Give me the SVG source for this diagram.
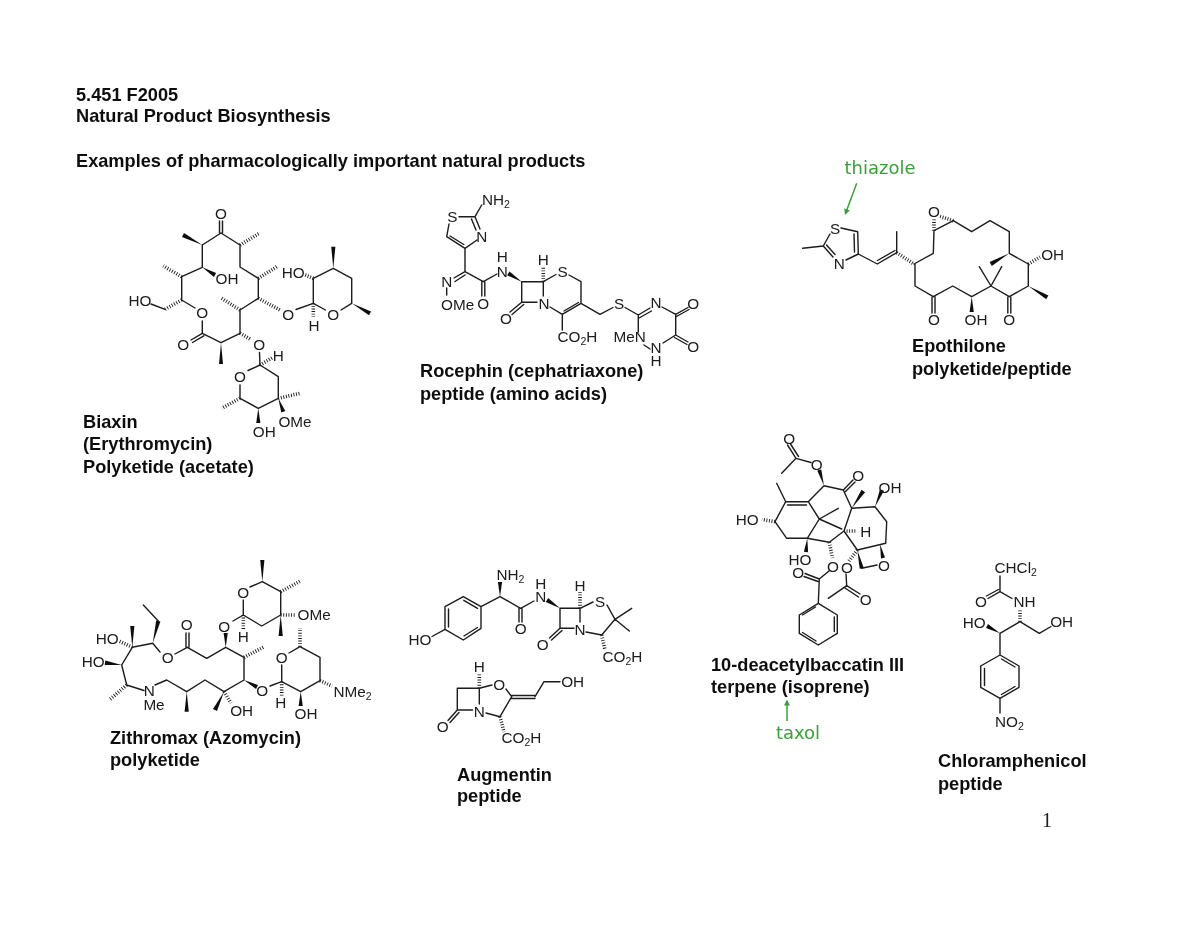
<svg xmlns="http://www.w3.org/2000/svg" width="1200" height="927" viewBox="0 0 1200 927">
<style>
.bg{fill:#fff}
.b{fill:none;stroke:#1c1c1c;stroke-width:1.4;stroke-linecap:round;stroke-linejoin:round}
.h{fill:none;stroke:#1c1c1c;stroke-width:3.6;stroke-dasharray:.9 1.7}
.w{fill:#111;stroke:none}
text{font-family:"Liberation Sans",Arial,sans-serif;fill:#1a1a1a}
.a{font-size:15.3px;text-anchor:middle}
.l{font-size:15.3px}
.s{font-size:10.5px}
.t{font-size:18.2px;font-weight:bold;fill:#111}
.g{font-family:"DejaVu Sans",Verdana,sans-serif;font-size:18px;fill:#37a237;text-anchor:middle}
.ga{fill:none;stroke:#37a237;stroke-width:1.5;marker-end:url(#ah)}
</style>
<defs>
<marker id="ah" markerWidth="6" markerHeight="6" refX="4.500" refY="3" orient="auto" markerUnits="userSpaceOnUse" viewBox="0 0 6 6"><path d="M0 0L6 3L0 6z" fill="#37a237"/></marker>
<filter id="soft" x="0" y="0" width="100%" height="100%"><feGaussianBlur stdDeviation="0.4"/></filter>
</defs>
<rect class="bg" width="1200" height="927"/>
<g filter="url(#soft)">
<g id="heading">
<text class="t" x="76" y="101">5.451 F2005</text>
<text class="t" x="76" y="122">Natural Product Biosynthesis</text>
<text class="t" x="76" y="167">Examples of pharmacologically important natural products</text>
</g>

<g id="biaxin">
<path class="b" d="M219.500 233V221M222.500 233V221M202.300 245L221 233L240 245V267L258.300 278.300V298.300L240 310V333.300L221 342.700L202.300 333.300V321M195 308L181.700 300V276.700L202.300 267.300V245M202.300 333.300L191 340M203.800 335.800L192.500 342.500M165 309.300L151 304"/>
<path class="b" d="M296 309.500L313.300 303.300L325.500 310M341 310L351.700 303.300V278.300L333.300 268.300L313.300 278.300V303.300"/>
<path class="b" d="M259.500 352.500L260 365L278.300 376.700V398.300L258.300 408.300L240 398.300V385M248 370.500L260 365"/>
<path class="h" d="M240 245L260 233M258.300 278.300L278 266M258.300 298.300L280 310M240 310L221.700 298.300M181.700 276.700L163.300 266M240 333.300L251 339.500M181.700 300L165 309.300M313.300 303.300V316.700M313.300 278.300L304 274.500M260 365L272 358M240 398.300L221.700 408.300M278.300 398.300L300 393.300"/>
<polygon class="w" points="202.300,245 184,233 182,237"/>
<polygon class="w" points="202.300,267.300 213.900,276.900 216.100,273.100"/>
<polygon class="w" points="221,342.700 219,364 223,364"/>
<polygon class="w" points="333.300,268.300 331.200,246.700 335.400,246.700"/>
<polygon class="w" points="351.700,303.300 369,315.200 371,311.400"/>
<polygon class="w" points="278.300,398.300 281.300,412.400 285.300,411"/>
<polygon class="w" points="258.300,408.300 256.200,423 260.400,423"/>
<text class="a" x="221" y="218.500">O</text>
<text class="a" x="227" y="283.500">OH</text>
<text class="a" x="140" y="305.500">HO</text>
<text class="a" x="202.300" y="318">O</text>
<text class="a" x="183.300" y="349.500">O</text>
<text class="a" x="288.300" y="319.500">O</text>
<text class="a" x="259.300" y="349.500">O</text>
<text class="a" x="293.300" y="277.500">HO</text>
<text class="a" x="333.300" y="319.500">O</text>
<text class="a" x="314" y="330.500">H</text>
<text class="a" x="278.300" y="361">H</text>
<text class="a" x="240" y="381.500">O</text>
<text class="a" x="295" y="427">OMe</text>
<text class="a" x="264.300" y="437">OH</text>
</g>
<g id="biaxin-label">
<text class="t" x="83" y="428">Biaxin</text>
<text class="t" x="83" y="450">(Erythromycin)</text>
<text class="t" x="83" y="473">Polyketide (acetate)</text>
</g>

<g id="rocephin">
<path class="b" d="M481.700 205L475 216.700L459 216.700M446.700 236.700L449 224M475 216.700L480 229M471.500 219L476 230M477 240L465 248.300L446.700 236.700M463.800 244.500L450 236M465 248.300V271.700L454 278M465 275L455 281.500M465 271.700L483.300 281.700L497 274M481.800 281.700V296M484.800 281.700V296M446.700 288V295"/>
<path class="b" d="M521.700 281.700H543.300V296M521.700 281.700V302.300H537M521.700 302.300L510 312M523.700 304.500L512 314.500M543.300 281.700L556 274.500M569 275L581 281.700V303.300L562.300 314.300L550 307M578.500 302.500L564 311M562.300 314.300V330M581 303.300L600 314.300L613 307.500M625 307.500L638.300 315L650 308M639 318L651.500 311M638.300 315V332M644 345L650 349M662 307L675.700 314.300L688 307.500M676.500 316.500L689 309.500M675.700 314.300V335L688 342M674.500 337.500L687 344.500M675.700 335L663 343"/>
<path class="h" d="M543.300 281.700L543.300 267"/>
<polygon class="w" points="521.700,281.700 509.500,271.400 507.100,275.200"/>
<text class="a" x="452.300" y="222">S</text>
<text class="a" x="481.700" y="242">N</text>
<text class="a" x="446.700" y="287">N</text>
<text class="l" x="441" y="309.500">OMe</text>
<text class="a" x="483.300" y="309">O</text>
<text class="a" x="502.300" y="277">N</text>
<text class="a" x="502.300" y="262">H</text>
<text class="a" x="543.300" y="265">H</text>
<text class="a" x="562.700" y="277">S</text>
<text class="a" x="544" y="308.500">N</text>
<text class="a" x="506" y="323.500">O</text>
<text class="l" x="557.500" y="342">CO<tspan class="s" dy="3">2</tspan><tspan dy="-3">H</tspan></text>
<text class="a" x="619" y="308.500">S</text>
<text class="a" x="656" y="307.500">N</text>
<text class="a" x="693.300" y="308.500">O</text>
<text class="a" x="693.300" y="352">O</text>
<text class="l" x="613.500" y="342">MeN</text>
<text class="a" x="656" y="353">N</text>
<text class="a" x="656" y="366">H</text>
<text class="l" x="482" y="204.500">NH<tspan class="s" dy="3">2</tspan></text>
</g>
<g id="rocephin-label">
<text class="t" x="420" y="377">Rocephin (cephatriaxone)</text>
<text class="t" x="420" y="400">peptide (amino acids)</text>
</g>

<g id="epothilone">
<path class="b" d="M802.700 248.300L823.300 246L830 234M823.300 246L833 257M826.500 245L835 254.500M846 260L858.300 254L857.700 231.700L841 228M854.500 252L854 234M858.300 254L877.300 264L896.700 252.700V231.700M877.500 260.500L895 250.500M914 264L933.300 253.300L934 230.700L953.300 220.700L971.700 231.700L990 220.700L1009.300 231.700V253.300L1028.300 264V286L1009.300 296.700L991 286L971.700 296.700L952.700 286L933.300 296.700L915 286V264L914 264M1007.800 296.700V313M1010.800 296.700V313M932 296.700V313M935 296.700V313M979.300 266.700L991 286L1001.700 266.700"/>
<path class="h" d="M896.700 252.700L914 264M953.300 220.700L939 216M934 230.700V219M1028.300 264L1040 257"/>
<polygon class="w" points="1009.300,253.300 991.800,265.900 989.600,262.100"/>
<polygon class="w" points="1028.300,286 1046.200,299.200 1048.400,295.400"/>
<polygon class="w" points="971.700,296.700 969.600,312 973.800,312"/>
<text class="a" x="835" y="233.500">S</text>
<text class="a" x="839.300" y="268.500">N</text>
<text class="a" x="934" y="216.500">O</text>
<text class="a" x="1052.700" y="260">OH</text>
<text class="a" x="934" y="325">O</text>
<text class="a" x="976" y="325">OH</text>
<text class="a" x="1009.300" y="325">O</text>
</g>
<g id="epothilone-label">
<text class="t" x="912" y="352">Epothilone</text>
<text class="t" x="912" y="375">polyketide/peptide</text>
</g>
<g id="thiazole-note">
<text class="g" x="880" y="174">thiazole</text>
<path class="ga" d="M856.700 183.300L845.500 213.500"/>
</g>

<g id="baccatin">
<path class="b" d="M787.500 445L796 458.300L781.700 473.300M790.500 444L798.500 456.500M796 458.300L811 462.500M824 485.700L843.300 490L851.700 508.300L875 506.700L886.700 521.700L885.700 543.300L857.300 550L844 531L851.700 508.300M843.300 490L853 480M845.500 491.500L855 482M824 485.700L808.300 501.700L819.300 519L807.300 538.300L829.300 542.300L844 531M808.300 501.700H785.700L775 521.700L786.700 538.300H807.300M806.500 505H787.500M785.700 501.700L776.700 483.300M819.300 519L838.300 508.300M819.300 519L841.700 529M861.700 568.300L877 565M829 571L819.300 579L818.300 603.300M819.300 579L805 573.500M818 581.500L804 576.500M846.700 585.700L846 574M846.700 585.700L828.300 598.300M846.700 585.700L860 594M845 588L858.500 597M818.300 603.300L837.300 615V633.300L818.300 645L799.300 633.300V615L818.300 603.300M815.500 607L802.500 615M834.300 617V631.500M802.500 632.500L816 641"/>
<path class="h" d="M775 521.700L762 519.500M844 531L857 531M829.300 542.300L832.500 558M857.300 550L849 561"/>
<polygon class="w" points="824,485.700 817.300,470.600 821.300,469.400"/>
<polygon class="w" points="851.700,508.300 865.100,492.200 861.500,489.800"/>
<polygon class="w" points="875,506.700 880,489.200 884,490.800"/>
<polygon class="w" points="880,544.300 881,558.400 885,557.600"/>
<polygon class="w" points="807.300,538.300 803.900,551.800 808.100,552.200"/>
<polygon class="w" points="857.300,550 859.700,568.800 863.700,567.800"/>
<text class="a" x="789.300" y="443.500">O</text>
<text class="a" x="816.700" y="469.500">O</text>
<text class="a" x="858.300" y="480.500">O</text>
<text class="a" x="890" y="492.500">OH</text>
<text class="a" x="747.300" y="524.500">HO</text>
<text class="a" x="865.700" y="537">H</text>
<text class="a" x="800" y="564.500">HO</text>
<text class="a" x="884" y="571">O</text>
<text class="a" x="833" y="572">O</text>
<text class="a" x="847" y="573">O</text>
<text class="a" x="798.300" y="578">O</text>
<text class="a" x="865.700" y="604.500">O</text>
</g>
<g id="baccatin-label">
<text class="t" x="711" y="671">10-deacetylbaccatin III</text>
<text class="t" x="711" y="693">terpene (isoprene)</text>
</g>
<g id="taxol-note">
<path class="ga" d="M787 721V701"/>
<text class="g" x="798" y="739">taxol</text>
</g>

<g id="zithromax">
<path class="b" d="M262.300 581.700L280.700 591.700V615L261.700 626L243.300 615V600M250 587L262.300 581.700M243.300 615L233 621M225.700 647.300L206.700 658.300L187.300 647.300M186 647.300V633M189 647.300V633M187.300 647.300L175 654M160 652L152.700 643.300L132.300 647.300L121.700 665L126.700 685L144 690.500M158.300 621L143.300 605M155 685L166.700 680L186.700 691.700L205 680L224 691.700L244 680V657.300L225.700 647.300"/>
<path class="b" d="M270 686L281.700 681.700V665M289 653L300 646.700L320 657.300V680.700L300.700 691.700L281.700 681.700"/>
<path class="h" d="M280.700 591.700L301 580.700M280.700 615L295 615M243.300 615V630M132.300 647.300L119 641M126.700 685L109.300 700M224 691.700L231 703M244 657.300L263.300 647.300M281.700 681.700V696M300 646.700V628.300M320 680.700L332 686"/>
<polygon class="w" points="262.300,581.700 260.200,560 264.400,560"/>
<polygon class="w" points="280.700,615 278.600,636 282.800,636"/>
<polygon class="w" points="225.700,647.300 223.600,633 227.800,633"/>
<polygon class="w" points="152.700,643.300 156.200,620.500 160.400,621.500"/>
<polygon class="w" points="132.300,647.300 130.200,626 134.400,626"/>
<polygon class="w" points="121.700,665 105.300,660.500 104.700,664.900"/>
<polygon class="w" points="186.700,691.700 184.600,711.700 188.800,711.700"/>
<polygon class="w" points="224,691.700 217,711 213,709"/>
<polygon class="w" points="244,680 256,688.900 258,685.100"/>
<polygon class="w" points="300.700,691.700 298.600,706 302.800,706"/>
<text class="a" x="243.300" y="597.500">O</text>
<text class="l" x="297.500" y="620">OMe</text>
<text class="a" x="243.300" y="642">H</text>
<text class="a" x="224.300" y="631.500">O</text>
<text class="a" x="186.700" y="630">O</text>
<text class="a" x="167.700" y="662.500">O</text>
<text class="a" x="107.300" y="644">HO</text>
<text class="a" x="93.300" y="667">HO</text>
<text class="a" x="149.300" y="696">N</text>
<text class="a" x="154" y="709.500">Me</text>
<text class="a" x="241.700" y="715.500">OH</text>
<text class="a" x="262.300" y="696">O</text>
<text class="a" x="281.700" y="662.500">O</text>
<text class="a" x="280.700" y="708">H</text>
<text class="a" x="306" y="718.500">OH</text>
<text class="l" x="333.500" y="697">NMe<tspan class="s" dy="3">2</tspan></text>
</g>
<g id="zithromax-label">
<text class="t" x="110" y="744">Zithromax (Azomycin)</text>
<text class="t" x="110" y="766">polyketide</text>
</g>

<g id="augmentin">
<path class="b" d="M500 596.700L481 606.700V628.300L463.300 640L445 629.300V606.700L463.300 596.700L481 606.700M448.500 609V627M463.800 600.300L477.500 608.300M464 636L477.500 627.500M445 629.300L432 636.500M500 596.700L520.700 608.300L534 601M519 608.300V622M522 608.300V622M560 608.300H580V622M560 608.300V628.300H574M560 628.300L549.500 638M562 630.500L551.500 640M580 608.300L593 602M607 605L615 619.300L631.700 608.300M615 619.300L629.300 631M615 619.300L601.700 635L586 632"/>
<path class="b" d="M479.300 688.300L492 685M479.300 688.300H457.300V710H472.500M479.300 688.300V704M457.300 710L448 720.500M459 712.500L450 722.500M486 713L500 716.700L511.700 696.700L506 689M511.700 695.500H535M511.700 698.500H535M535 696.700L544 681.700H560"/>
<path class="h" d="M580 608.300V592M601.700 635L605 650M479.300 688.300V673M500 716.700L504 732"/>
<polygon class="w" points="500,596.700 497.900,582 502.100,582"/>
<polygon class="w" points="560,608.300 548.200,598.100 545.800,601.900"/>
<text class="l" x="496.500" y="580">NH<tspan class="s" dy="3">2</tspan></text>
<text class="a" x="420" y="644.500">HO</text>
<text class="a" x="520.700" y="634">O</text>
<text class="a" x="540.700" y="602">N</text>
<text class="a" x="540.700" y="589">H</text>
<text class="a" x="580" y="590.500">H</text>
<text class="a" x="600" y="607">S</text>
<text class="a" x="580" y="634.500">N</text>
<text class="a" x="542.700" y="649.500">O</text>
<text class="l" x="602.500" y="661.500">CO<tspan class="s" dy="3">2</tspan><tspan dy="-3">H</tspan></text>
<text class="a" x="479.300" y="672">H</text>
<text class="a" x="499.300" y="689.500">O</text>
<text class="a" x="572.700" y="687">OH</text>
<text class="a" x="479.300" y="717">N</text>
<text class="a" x="442.700" y="731.500">O</text>
<text class="l" x="501.500" y="742.500">CO<tspan class="s" dy="3">2</tspan><tspan dy="-3">H</tspan></text>
</g>
<g id="augmentin-label">
<text class="t" x="457" y="781">Augmentin</text>
<text class="t" x="457" y="802">peptide</text>
</g>

<g id="chloramphenicol">
<path class="b" d="M1000 576V591.700L988 598.500M998.500 589.500L986.500 596M1000 591.700L1012 598.500M1020 621.700L1000 633.300M1020 621.700L1039.300 633.300L1051 626.500M1000 633.300V655L1019 666V687.300L1000 698.300L980.700 687.300V666L1000 655M1001.500 659L1015 667M1001.500 694.500L1015 686.500M984.500 668.500V685.500M1000 698.300V713"/>
<path class="h" d="M1020 621.700V609"/>
<polygon class="w" points="1000,633.300 988,624.100 986,627.900"/>
<text class="l" x="994.500" y="573">CHCl<tspan class="s" dy="3">2</tspan></text>
<text class="a" x="981" y="607">O</text>
<text class="l" x="1013.500" y="607">NH</text>
<text class="a" x="974.300" y="627.500">HO</text>
<text class="a" x="1061.700" y="627">OH</text>
<text class="l" x="995" y="726.500">NO<tspan class="s" dy="3">2</tspan></text>
</g>
<g id="chloramphenicol-label">
<text class="t" x="938" y="767">Chloramphenicol</text>
<text class="t" x="938" y="790">peptide</text>
</g>

<text id="page-number" x="1047" y="827" text-anchor="middle" style="font-family:'Liberation Serif',serif;font-size:20px">1</text>
</g>
</svg>
